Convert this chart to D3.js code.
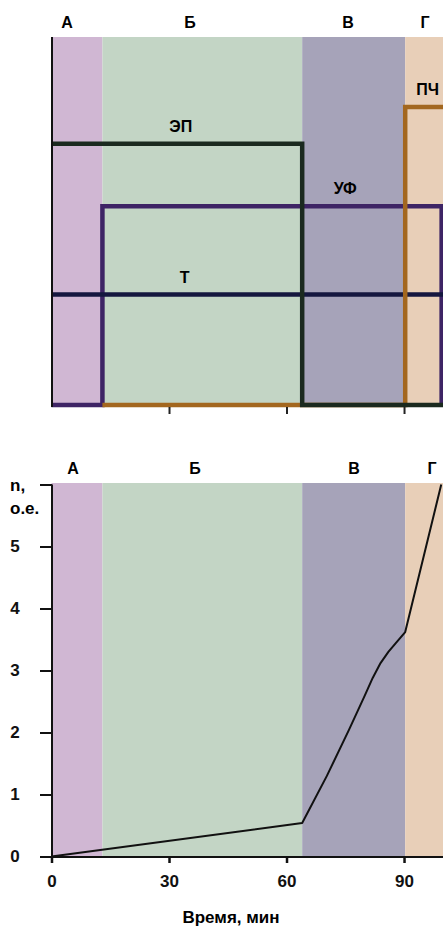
<!DOCTYPE html>
<html>
<head>
<meta charset="utf-8">
<script src="https://cdn.jsdelivr.net/npm/d3@7"></script>
<style>
  body { margin: 0; background: #fff; }
  svg { display: block; font-family: "Liberation Sans", Arial, sans-serif; }
</style>
</head>
<body>
<div id="chart"></div>
<script>
// Фазы процесса (мин)
const phaseNames = ["А", "Б", "В", "Г"];
const phaseStart = [0, 13, 64, 90.3];
const phaseEnd = [13, 64, 90.3, 100];

// Сигналы верхней панели (ступенчатые, в относительных единицах)
const signalNames = ["УФ", "Т", "ПЧ", "ЭП"];
const signalSteps = [
    [[0, 0], [13, 0], [13, 0.54], [99.6, 0.54], [99.6, 0]],
    [[0, 0.30], [100, 0.30]],
    [[13, 0], [90.3, 0], [90.3, 0.81], [100, 0.81]],
    [[0, 0.71], [64, 0.71], [64, 0], [100, 0]]
];
const signalLabelAt = [[75, 0.54], [34, 0.30], [96, 0.81], [33, 0.71]];

// Нижняя панель: n, о.е. от времени
const timeValues = [0, 64, 70.3, 76, 80, 82, 84, 86, 88, 90.3, 99.5];
const nValues = [0, 0.54, 1.3, 2.05, 2.6, 2.88, 3.12, 3.3, 3.45, 3.62, 6.0];
const xTicks = [0, 30, 60, 90];
const yTicks = [0, 1, 2, 3, 4, 5, 6];

const phaseColors = ["#d0b7d3", "#c3d5c5", "#a6a3b9", "#e8cfb8"];
const signalColors = { "УФ": "#3e2465", "Т": "#15173f", "ПЧ": "#a3671f", "ЭП": "#1b2a1f" };

const W = 443, H = 926;
const svg = d3.select("#chart").append("svg")
    .attr("width", W).attr("height", H);

const x = d3.scaleLinear().domain([0, 100]).range([51.5, 443.2]);

// ---------- верхняя панель ----------
const panelTop = { y0: 37, y1: 406 };
const yTop = d3.scaleLinear().domain([0, 1]).range([405, 37]);

const gTop = svg.append("g");
gTop.selectAll("rect.phase")
    .data(phaseNames)
    .enter().append("rect")
    .attr("x", (d, i) => x(phaseStart[i]))
    .attr("width", (d, i) => x(phaseEnd[i]) - x(phaseStart[i]))
    .attr("y", panelTop.y0)
    .attr("height", panelTop.y1 - panelTop.y0)
    .attr("fill", (d, i) => phaseColors[i]);

gTop.selectAll("text.phase")
    .data(phaseNames)
    .enter().append("text")
    .attr("x", (d, i) => [67, 190, 348, 425][i])
    .attr("y", 28)
    .attr("text-anchor", "middle")
    .style("font-size", "16px")
    .style("font-weight", "bold")
    .text(d => d);

const line = d3.line().x(d => x(d[0])).y(d => yTop(d[1]));
signalNames.forEach((name, i) => {
    gTop.append("path")
        .attr("d", line(signalSteps[i]))
        .attr("fill", "none")
        .attr("stroke", signalColors[name])
        .attr("stroke-width", 4.5)
        .attr("stroke-linejoin", "miter");
});
signalNames.forEach((name, i) => {
    gTop.append("text")
        .attr("x", x(signalLabelAt[i][0]))
        .attr("y", yTop(signalLabelAt[i][1]) - 12)
        .attr("text-anchor", "middle")
        .style("font-size", "16px")
        .style("font-weight", "bold")
        .text(name);
});

// оси верхней панели
gTop.append("g")
    .attr("transform", `translate(0,${panelTop.y1 + 1})`)
    .call(d3.axisBottom(x).tickValues(xTicks.slice(1)).tickSize(7).tickFormat(""))
    .call(g => g.select(".domain").remove())
    .call(g => g.selectAll("line").attr("stroke", "#222").attr("stroke-width", 2));
gTop.append("line")
    .attr("x1", 52).attr("x2", 52)
    .attr("y1", panelTop.y0).attr("y2", panelTop.y1 + 1)
    .attr("stroke", "#111").attr("stroke-width", 2);

// ---------- нижняя панель ----------
const yBot = d3.scaleLinear().domain([0, 6]).range([856.5, 484.5]);
const gBot = svg.append("g");

gBot.selectAll("rect.phase")
    .data(phaseNames)
    .enter().append("rect")
    .attr("x", (d, i) => x(phaseStart[i]))
    .attr("width", (d, i) => x(phaseEnd[i]) - x(phaseStart[i]))
    .attr("y", 483)
    .attr("height", 856.5 - 483)
    .attr("fill", (d, i) => phaseColors[i]);

gBot.selectAll("text.phase")
    .data(phaseNames)
    .enter().append("text")
    .attr("x", (d, i) => [73, 195, 354, 432][i])
    .attr("y", 474)
    .attr("text-anchor", "middle")
    .style("font-size", "16px")
    .style("font-weight", "bold")
    .text(d => d);

gBot.append("path")
    .datum(timeValues.map((t, i) => [t, nValues[i]]))
    .attr("d", d3.line().x(d => x(d[0])).y(d => yBot(d[1])))
    .attr("fill", "none")
    .attr("stroke", "#111")
    .attr("stroke-width", 2)
    .attr("stroke-linejoin", "round");

// ось Y
gBot.append("g")
    .attr("transform", "translate(52,0)")
    .call(d3.axisLeft(yBot).tickValues(yTicks).tickSize(12)
        .tickFormat(d => d === 6 ? "" : d))
    .call(g => g.select(".domain").attr("stroke", "#111").attr("stroke-width", 2)
        .attr("d", `M0,${yBot(6)}V${yBot(0)}`))
    .call(g => g.selectAll("line").attr("stroke", "#111").attr("stroke-width", 2))
    .call(g => g.selectAll("text")
        .attr("x", -37).attr("text-anchor", "middle")
        .style("font-family", "Liberation Sans, Arial, sans-serif")
        .style("font-size", "17px").style("font-weight", "bold").attr("fill", "#111"));

// ось X
gBot.append("g")
    .attr("transform", "translate(0,857)")
    .call(d3.axisBottom(x).tickValues(xTicks).tickSize(6).tickPadding(12))
    .call(g => g.select(".domain").attr("stroke", "#111").attr("stroke-width", 2)
        .attr("d", "M40,0H443"))
    .call(g => g.selectAll("line").attr("stroke", "#111").attr("stroke-width", 2.5))
    .call(g => g.selectAll("text")
        .style("font-family", "Liberation Sans, Arial, sans-serif")
        .style("font-size", "17px").style("font-weight", "bold").attr("fill", "#111"));

svg.append("text")
    .attr("x", 10).attr("y", 491)
    .style("font-size", "17px").style("font-weight", "bold")
    .text("n,");
svg.append("text")
    .attr("x", 10).attr("y", 514)
    .style("font-size", "17px").style("font-weight", "bold")
    .text("о.е.");

svg.append("text")
    .attr("x", 231).attr("y", 923)
    .attr("text-anchor", "middle")
    .style("font-size", "17px").style("font-weight", "bold")
    .text("Время, мин");
</script>
</body>
</html>
